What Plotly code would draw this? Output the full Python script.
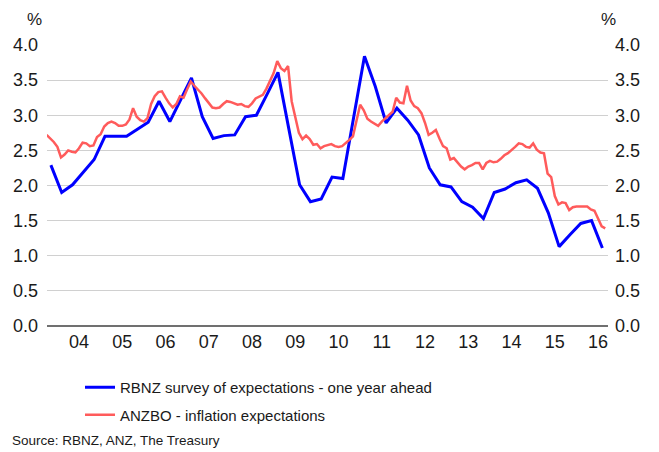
import plotly.graph_objects as go

# RBNZ survey of expectations, one year ahead (quarterly, from Q4 2003)
rbnz_start = 2003.85
rbnz = [
    2.29, 1.90, 2.01, 2.19, 2.37, 2.70, 2.70, 2.70, 2.80, 2.90,
    3.20, 2.91, 3.22, 3.53, 2.98, 2.67, 2.71, 2.72, 2.98, 3.00,
    3.30, 3.61, 2.81, 2.01, 1.77, 1.81, 2.12, 2.10, 2.97, 3.84,
    3.41, 2.89, 3.10, 2.93, 2.72, 2.25, 2.01, 1.98, 1.77, 1.69,
    1.53, 1.90, 1.95, 2.04, 2.08, 1.96, 1.61, 1.13, 1.30, 1.46,
    1.50, 1.11,
]

# ANZBO inflation expectations (monthly, from Oct 2003)
anzbo_start = 2003.75
anzbo = [
    2.72, 2.67, 2.62, 2.55, 2.40, 2.44, 2.50, 2.48, 2.47, 2.53,
    2.61, 2.60, 2.56, 2.57, 2.69, 2.73, 2.84, 2.89, 2.91, 2.89,
    2.85, 2.85, 2.87, 2.94, 3.10, 2.98, 2.93, 2.91, 2.96, 3.16,
    3.27, 3.33, 3.34, 3.25, 3.17, 3.11, 3.16, 3.27, 3.25, 3.37,
    3.48, 3.42, 3.37, 3.31, 3.24, 3.18, 3.11, 3.10, 3.11, 3.16,
    3.20, 3.19, 3.17, 3.15, 3.16, 3.13, 3.12, 3.17, 3.24, 3.27,
    3.29, 3.38, 3.48, 3.60, 3.77, 3.67, 3.63, 3.70, 3.20, 2.95,
    2.75, 2.66, 2.71, 2.66, 2.58, 2.59, 2.53, 2.56, 2.58, 2.59,
    2.56, 2.55, 2.56, 2.60, 2.65, 2.70, 2.92, 3.15, 3.07, 2.95,
    2.91, 2.88, 2.85, 2.91, 2.96, 3.01, 3.05, 3.25, 3.18, 3.17,
    3.42, 3.21, 3.13, 3.10, 3.03, 2.89, 2.72, 2.75, 2.79, 2.67,
    2.56, 2.53, 2.37, 2.39, 2.33, 2.27, 2.23, 2.27, 2.29, 2.32,
    2.32, 2.23, 2.32, 2.35, 2.33, 2.34, 2.38, 2.43, 2.46, 2.50,
    2.55, 2.60, 2.59, 2.55, 2.54, 2.60, 2.51, 2.47, 2.46, 2.17,
    2.12, 1.85, 1.73, 1.76, 1.75, 1.65, 1.69, 1.70, 1.70, 1.69,
    1.70, 1.66, 1.64, 1.53, 1.42, 1.39,
]

year_labels = ["04", "05", "06", "07", "08", "09", "10", "11", "12", "13", "14", "15", "16"]
year_pos = [2004.5 + i for i in range(len(year_labels))]
y_ticks = [0.0, 0.5, 1.0, 1.5, 2.0, 2.5, 3.0, 3.5, 4.0]

rbnz_x = [rbnz_start + 0.25 * i for i in range(len(rbnz))]
anzbo_x = [anzbo_start + i / 12 for i in range(len(anzbo))]

FONT = "Liberation Sans, Arial, sans-serif"
TXT = "#1a1a1a"

# the page body has an 8px margin, so the plot box is pulled up/left by 8px
PL, PT, PW, PH = 39, 37, 561, 281


def px_to_paper(px, py):
    # window pixel -> paper coords of the plot area
    return (px - 8 - PL) / PW, (PT + PH - (py - 8)) / PH


fig = go.Figure()
fig.add_trace(go.Scatter(
    x=rbnz_x, y=rbnz, mode="lines", legendgroup="a",
    name="RBNZ survey of expectations - one year ahead",
    line=dict(color="#0000ff", width=3),
))
fig.add_trace(go.Scatter(
    x=anzbo_x, y=anzbo, mode="lines", yaxis="y2", legendgroup="b",
    name="ANZBO - inflation expectations",
    line=dict(color="#ff5b5b", width=2.5),
))

lx, ly = px_to_paper(80, 371)
sx, sy = px_to_paper(10, 440)
p1x, py_ = px_to_paper(34, 19)
p2x, _ = px_to_paper(608, 19)

fig.update_layout(
    width=659, height=452,
    margin=dict(l=PL, r=659 - PL - PW, t=PT, b=452 - PT - PH, autoexpand=False),
    paper_bgcolor="white", plot_bgcolor="white",
    font=dict(family=FONT, color=TXT, size=16),
    showlegend=True,
    legend=dict(
        x=lx, y=ly, xanchor="left", yanchor="top",
        font=dict(size=15), tracegroupgap=5, itemwidth=30,
        bgcolor="rgba(0,0,0,0)",
    ),
    xaxis=dict(
        range=[2003.76, 2016.73], tickvals=year_pos, ticktext=year_labels,
        showgrid=False, zeroline=False, showline=False, ticks="",
        tickfont=dict(size=18), ticklabelstandoff=3, automargin=False,
    ),
    yaxis=dict(
        range=[0, 4], tickvals=y_ticks, tickformat=".1f",
        showgrid=True, gridcolor="#d0d0d0", gridwidth=1,
        zeroline=True, zerolinecolor="#707070", zerolinewidth=2,
        ticks="", tickfont=dict(size=18), ticklabelstandoff=8, automargin=False,
    ),
    yaxis2=dict(
        range=[0, 4], tickvals=y_ticks, tickformat=".1f",
        overlaying="y", side="right", showgrid=False, zeroline=False,
        ticks="", tickfont=dict(size=18), ticklabelstandoff=6, automargin=False,
    ),
)

fig.add_annotation(text="%", xref="paper", yref="paper", x=p1x, y=py_,
                   xanchor="center", yanchor="middle", showarrow=False, font=dict(size=17))
fig.add_annotation(text="%", xref="paper", yref="paper", x=p2x, y=py_,
                   xanchor="center", yanchor="middle", showarrow=False, font=dict(size=17))
fig.add_annotation(text="Source: RBNZ, ANZ, The Treasury", xref="paper", yref="paper",
                   x=sx, y=sy, xanchor="left", yanchor="middle",
                   showarrow=False, font=dict(size=13.5))

fig.write_html("out.html")
